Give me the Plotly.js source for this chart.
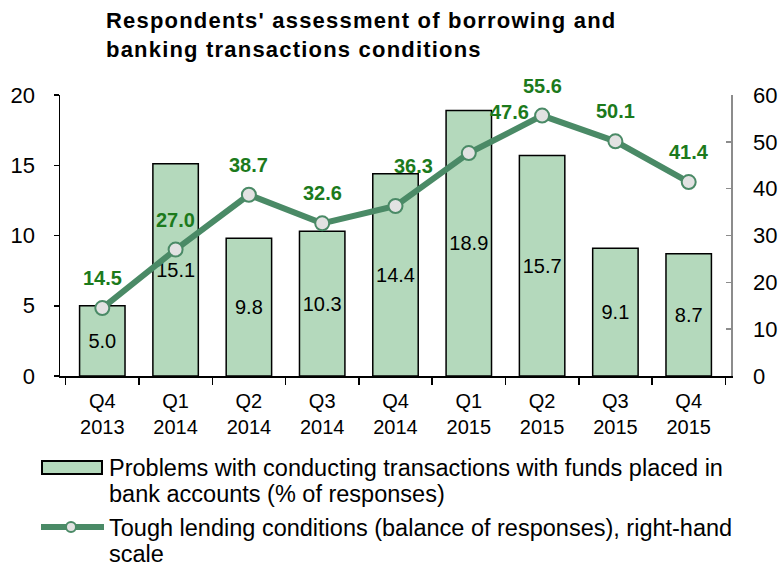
<!DOCTYPE html>
<html>
<head>
<meta charset="utf-8">
<script src="https://cdn.plot.ly/plotly-3.0.1.min.js"></script>
<style>
html,body{margin:0;padding:0;background:#fff;}
#chart{width:781px;height:568px;}
#chart g.annotation[data-index="0"] text{letter-spacing:1.2px;}
</style>
</head>
<body>
<div id="chart"></div>
<script>
const categories = ["Q4<br>2013","Q1<br>2014","Q2<br>2014","Q3<br>2014","Q4<br>2014","Q1<br>2015","Q2<br>2015","Q3<br>2015","Q4<br>2015"];
const problemsPct = [5.0, 15.1, 9.8, 10.3, 14.4, 18.9, 15.7, 9.1, 8.7];
const toughLending = [14.5, 27.0, 38.7, 32.6, 36.3, 47.6, 55.6, 50.1, 41.4];
const barNameLines = ["Problems with conducting transactions with funds placed in", "bank accounts (% of responses)"];
const lineNameLines = ["Tough lending conditions (balance of responses), right-hand", "scale"];
const titleText = "Respondents' assessment of borrowing and<br>banking transactions conditions";

const FONT = "Liberation Sans, Arial, sans-serif";
const labelGreen = "#1c7a1c";
const lineColor = "#4a8a66";
const barFill = "#b4d9bc";
const markerFill = "#e2e2e2";

// plot area geometry in pixels (for placing title and hand-drawn legend)
const W = 781, H = 568, L = 60, R = 50, T = 95, B = 192;
const pw = W - L - R, ph = H - T - B;
const px = x => (x - L) / pw;
const py = y => 1 - (y - T) / ph;

const barTrace = {
  type: "bar", x: categories, y: problemsPct, name: barNameLines.join(" "),
  width: 0.62,
  marker: {color: barFill, line: {color: "#000", width: 1.5}},
  text: problemsPct.map(v => v.toFixed(1)),
  textposition: "inside", insidetextanchor: "middle", textangle: 0, constraintext: "none",
  textfont: {family: FONT, size: 20, color: "#000"},
  hoverinfo: "skip", cliponaxis: false
};
const lineTrace = {
  type: "scatter", mode: "lines+markers", x: categories, y: toughLending, yaxis: "y2",
  name: lineNameLines.join(" "),
  line: {color: lineColor, width: 6},
  marker: {size: 14, color: markerFill, line: {color: lineColor, width: 2}},
  hoverinfo: "skip", cliponaxis: false
};

const annotations = [{
  xref: "paper", yref: "paper", x: px(104), y: py(6),
  xanchor: "left", yanchor: "top", align: "left", showarrow: false,
  text: "<b>" + titleText + "</b>",
  font: {family: FONT, size: 22, color: "#000"}
}];

// label offset tweaks (pixel shifts) for two crowded labels
const shiftTweaks = {4: {x: 18, y: 40}, 5: {x: 41, y: 41}};
toughLending.forEach((v, i) => annotations.push({
  x: categories[i], y: v, xref: "x", yref: "y2",
  text: "<b>" + v.toFixed(1) + "</b>", showarrow: false,
  font: {family: FONT, size: 20, color: labelGreen},
  xshift: (shiftTweaks[i] || {}).x || 0,
  yshift: (shiftTweaks[i] || {}).y || 30
}));

// hand-drawn legend
const legendFont = {family: FONT, size: 23.5, color: "#000"};
const legendLines = [
  {text: barNameLines[0], y: 468},
  {text: barNameLines[1], y: 494},
  {text: lineNameLines[0], y: 528},
  {text: lineNameLines[1], y: 554}
];
legendLines.forEach(l => annotations.push({
  xref: "paper", yref: "paper", x: px(107), y: py(l.y),
  xanchor: "left", yanchor: "middle", text: l.text, showarrow: false,
  font: legendFont
}));
const shapes = [
  {type: "rect", xref: "paper", yref: "paper", x0: px(42), x1: px(102), y0: py(461), y1: py(474),
   fillcolor: barFill, line: {color: "#000", width: 2}},
  {type: "line", xref: "paper", yref: "paper", x0: px(41), x1: px(104), y0: py(527), y1: py(527),
   line: {color: lineColor, width: 6}},
  {type: "circle", xref: "paper", yref: "paper", x0: px(66), x1: px(76), y0: py(522), y1: py(532),
   fillcolor: markerFill, line: {color: lineColor, width: 2}}
];

const layout = {
  width: W, height: H,
  margin: {l: L, r: R, t: T, b: B, autoexpand: false},
  paper_bgcolor: "#fff", plot_bgcolor: "#fff",
  font: {family: FONT, size: 16, color: "#000"},
  showlegend: false,
  xaxis: {
    type: "category", showline: true, linecolor: "#000", linewidth: 1.5,
    ticks: "outside", tickson: "boundaries", ticklen: 7, tickcolor: "#000", tickwidth: 1.5,
    tickfont: {family: FONT, size: 20}, showgrid: false, zeroline: false,
    tickangle: 0, ticklabelstandoff: 6
  },
  yaxis: {
    range: [0, 20], dtick: 5, showline: true, linecolor: "#000", linewidth: 1.5,
    ticks: "outside", ticklen: 5, tickcolor: "#000", tickwidth: 1.5,
    tickfont: {family: FONT, size: 22}, showgrid: false, zeroline: false,
    ticklabelstandoff: 14
  },
  yaxis2: {
    range: [0, 60], dtick: 10, overlaying: "y", side: "right",
    showline: true, linecolor: "#8c8c8c", linewidth: 1.5,
    ticks: "inside", ticklen: 5, tickcolor: "#8c8c8c", tickwidth: 1.5,
    tickfont: {family: FONT, size: 22}, showgrid: false, zeroline: false,
    ticklabelstandoff: 16
  },
  annotations: annotations,
  shapes: shapes
};

Plotly.newPlot("chart", [barTrace, lineTrace], layout, {displayModeBar: false, staticPlot: true});
</script>
</body>
</html>
